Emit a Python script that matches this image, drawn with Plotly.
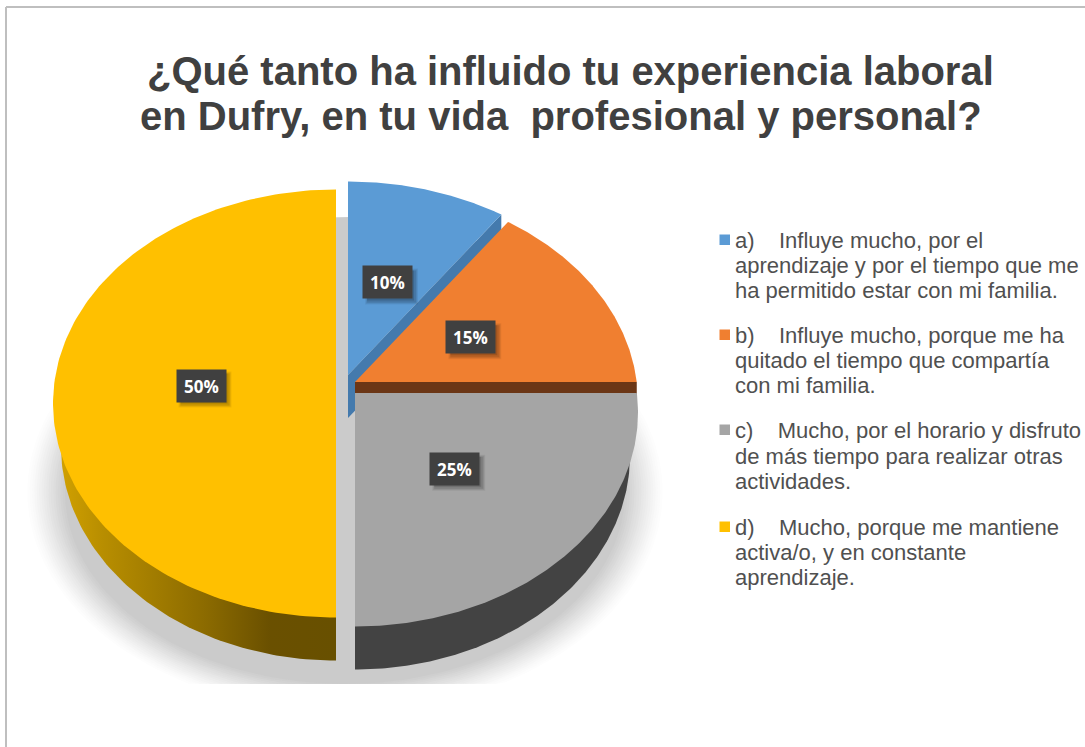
import numpy as np
import plotly.graph_objects as go

TITLE_LINES = ["¿Qué tanto ha influido tu experiencia laboral",
               "en Dufry, en tu vida  profesional y personal?"]
VALUES = [10, 15, 25, 50]
VALUE_LABELS = ["10%", "15%", "25%", "50%"]
LEGEND_LINES = [
    ["a)    Influye mucho, por el", "aprendizaje y por el tiempo que me", "ha permitido estar con mi familia."],
    ["b)    Influye mucho, porque me ha", "quitado el tiempo que compartía", "con mi familia."],
    ["c)    Mucho, por el horario y disfruto", "de más tiempo para realizar otras", "actividades."],
    ["d)    Mucho, porque me mantiene", "activa/o, y en constante", "aprendizaje."],
]
TOP_COLORS = ["#5B9BD5", "#F07F30", "#A5A5A5", "#FFC000"]
WALL_COLORS = ["#447AAD", "#6B3616", "#434343", "#6A5000"]

# layout of the exploded, tilted pie (page pixels)
CENTERS_X = [348, 355, 355, 336]
CENTERS_Y = [395.5, 402, 412.5, 403.5]
APEX_DROP = [20.5, 20, 19.5, 18]
LABEL_R = [128, 130, 141, 135]
RADII_X = [287, 283, 283, 283]
RY, TILT, DEPTH, WALL_RX = 214, 0.76, 43, 275
LEGEND_Y = [[240, 265, 290], [335, 360, 385], [430, 456, 481], [527, 552, 577]]

fig = go.Figure()


def rim(t, cx, cy, ay, rx, ry):
    dx, dy = np.sin(t), -np.cos(t) * TILT
    a = (dx / rx) ** 2 + (dy / ry) ** 2
    b = 2 * (ay - cy) * dy / ry ** 2
    c = ((ay - cy) / ry) ** 2 - 1
    s = (-b + np.sqrt(b * b - 4 * a * c)) / (2 * a)
    return cx + s * dx, ay + s * dy


def sector(t0, t1, cx, cy, ay, rx, ry):
    ts = np.linspace(t0, t1, 160)
    x, y = rim(ts, cx, cy, ay, rx, ry)
    return np.r_[cx, x, cx], np.r_[ay, y, ay]


def poly(x, y, color=None, gradient=None):
    kw = dict(fillgradient=gradient) if gradient else dict(fillcolor=color)
    fig.add_trace(go.Scatter(x=x, y=y, mode="lines", fill="toself", line=dict(width=0),
                             hoverinfo="skip", showlegend=False, **kw))


# soft shadow under the pie
N = 18
for i in range(N):
    f = i / (N - 1)
    g = int(round(255 - (255 - 203) * f ** 1.2))
    th = np.linspace(0, 2 * np.pi, 200)
    ex = 345 + (320 - 40 * f) * np.cos(th)
    ey = 492 + (222 - 30 * f) * np.sin(th)
    poly(ex, np.minimum(ey, 684), f"rgb({g},{g},{g})")
th = np.linspace(0, 2 * np.pi, 200)
poly(345 + 270 * np.cos(th), 410 + 193 * np.sin(th), "rgb(203,203,203)")

# slices from cumulative values
edges = np.cumsum([0] + VALUES) / sum(VALUES) * 2 * np.pi
for i, v in enumerate(VALUES):
    t0, t1 = edges[i], edges[i + 1]
    cx, cy = CENTERS_X[i], CENTERS_Y[i]
    ay = cy - APEX_DROP[i]
    if t1 <= np.pi / 2 + 1e-9:
        # the cut face seen from the front
        rx0, ry0 = rim(np.array([t1]), cx, cy, ay, RADII_X[i], RY)
        poly([cx, rx0[0], rx0[0], cx, cx], [ay, ry0[0], ry0[0] + DEPTH, ay + DEPTH, ay], WALL_COLORS[i])
    else:
        wx, wy = sector(t0, t1, cx, cy + DEPTH, ay + DEPTH, WALL_RX, RY)
        if i == 3:
            poly(wx, wy, gradient=dict(type="horizontal", colorscale=[
                [0, "#D0A000"], [0.15, "#B88E00"], [0.52, "#8C6B00"], [0.76, "#6A5000"], [1, "#685000"]]))
        else:
            poly(wx, wy, WALL_COLORS[i])
    tx, ty = sector(t0, t1, cx, cy, ay, RADII_X[i], RY)
    poly(tx, ty, TOP_COLORS[i])

# value labels
for i, (v, lab) in enumerate(zip(VALUES, VALUE_LABELS)):
    mid = (edges[i] + edges[i + 1]) / 2
    lx = CENTERS_X[i] + LABEL_R[i] * np.sin(mid)
    ly = CENTERS_Y[i] - APEX_DROP[i] - LABEL_R[i] * np.cos(mid) * TILT
    for off, grow, op in ((4, 3, 0.06), (4, 2, 0.08), (4, 1, 0.10), (3, 0, 0.14)):
        fig.add_shape(type="rect", x0=lx - 23.5 + off - grow, x1=lx + 23.5 + off + grow,
                      y0=ly - 15 + off - grow, y1=ly + 15 + off + grow,
                      fillcolor="black", opacity=op, line_width=0)
    fig.add_annotation(x=lx, y=ly, text=f"<b>{lab}</b>", showarrow=False, width=47, height=30,
                       bgcolor="#404040", font=dict(family="Open Sans", size=17, color="white"), valign="middle")

# title
for txt, xc, yc in zip(TITLE_LINES, (570, 561), (71, 116)):
    fig.add_annotation(x=xc, y=yc, text=f"<b>{txt}</b>", showarrow=False,
                       font=dict(family="Liberation Sans", size=40, color="#404040"))

# legend
for i, (lines, ys) in enumerate(zip(LEGEND_LINES, LEGEND_Y)):
    fig.add_shape(type="rect", x0=719.5, x1=730, y0=ys[0] - 5.5, y1=ys[0] + 5, fillcolor=TOP_COLORS[i], line_width=0)
    for txt, y in zip(lines, ys):
        fig.add_annotation(x=733, y=y, text=txt, showarrow=False, xanchor="left",
                           font=dict(family="Liberation Sans", size=22, color="#505050"))

# outer frame of the chart
fig.add_shape(type="line", x0=6, x1=6, y0=7, y1=747, line=dict(color="#BFBFBF", width=2))
fig.add_shape(type="line", x0=6, x1=1085, y0=7, y1=7, line=dict(color="#BFBFBF", width=2))

fig.update_layout(
    width=1085, height=747, margin=dict(l=0, r=0, t=0, b=0), paper_bgcolor="white", plot_bgcolor="white",
    showlegend=False,
    xaxis=dict(range=[0, 1085], visible=False, fixedrange=True),
    yaxis=dict(range=[747, 0], visible=False, fixedrange=True),
)
fig.write_html("out.html", config={"displayModeBar": False},
               post_script="document.body.style.margin='0';document.body.style.overflow='hidden';")
